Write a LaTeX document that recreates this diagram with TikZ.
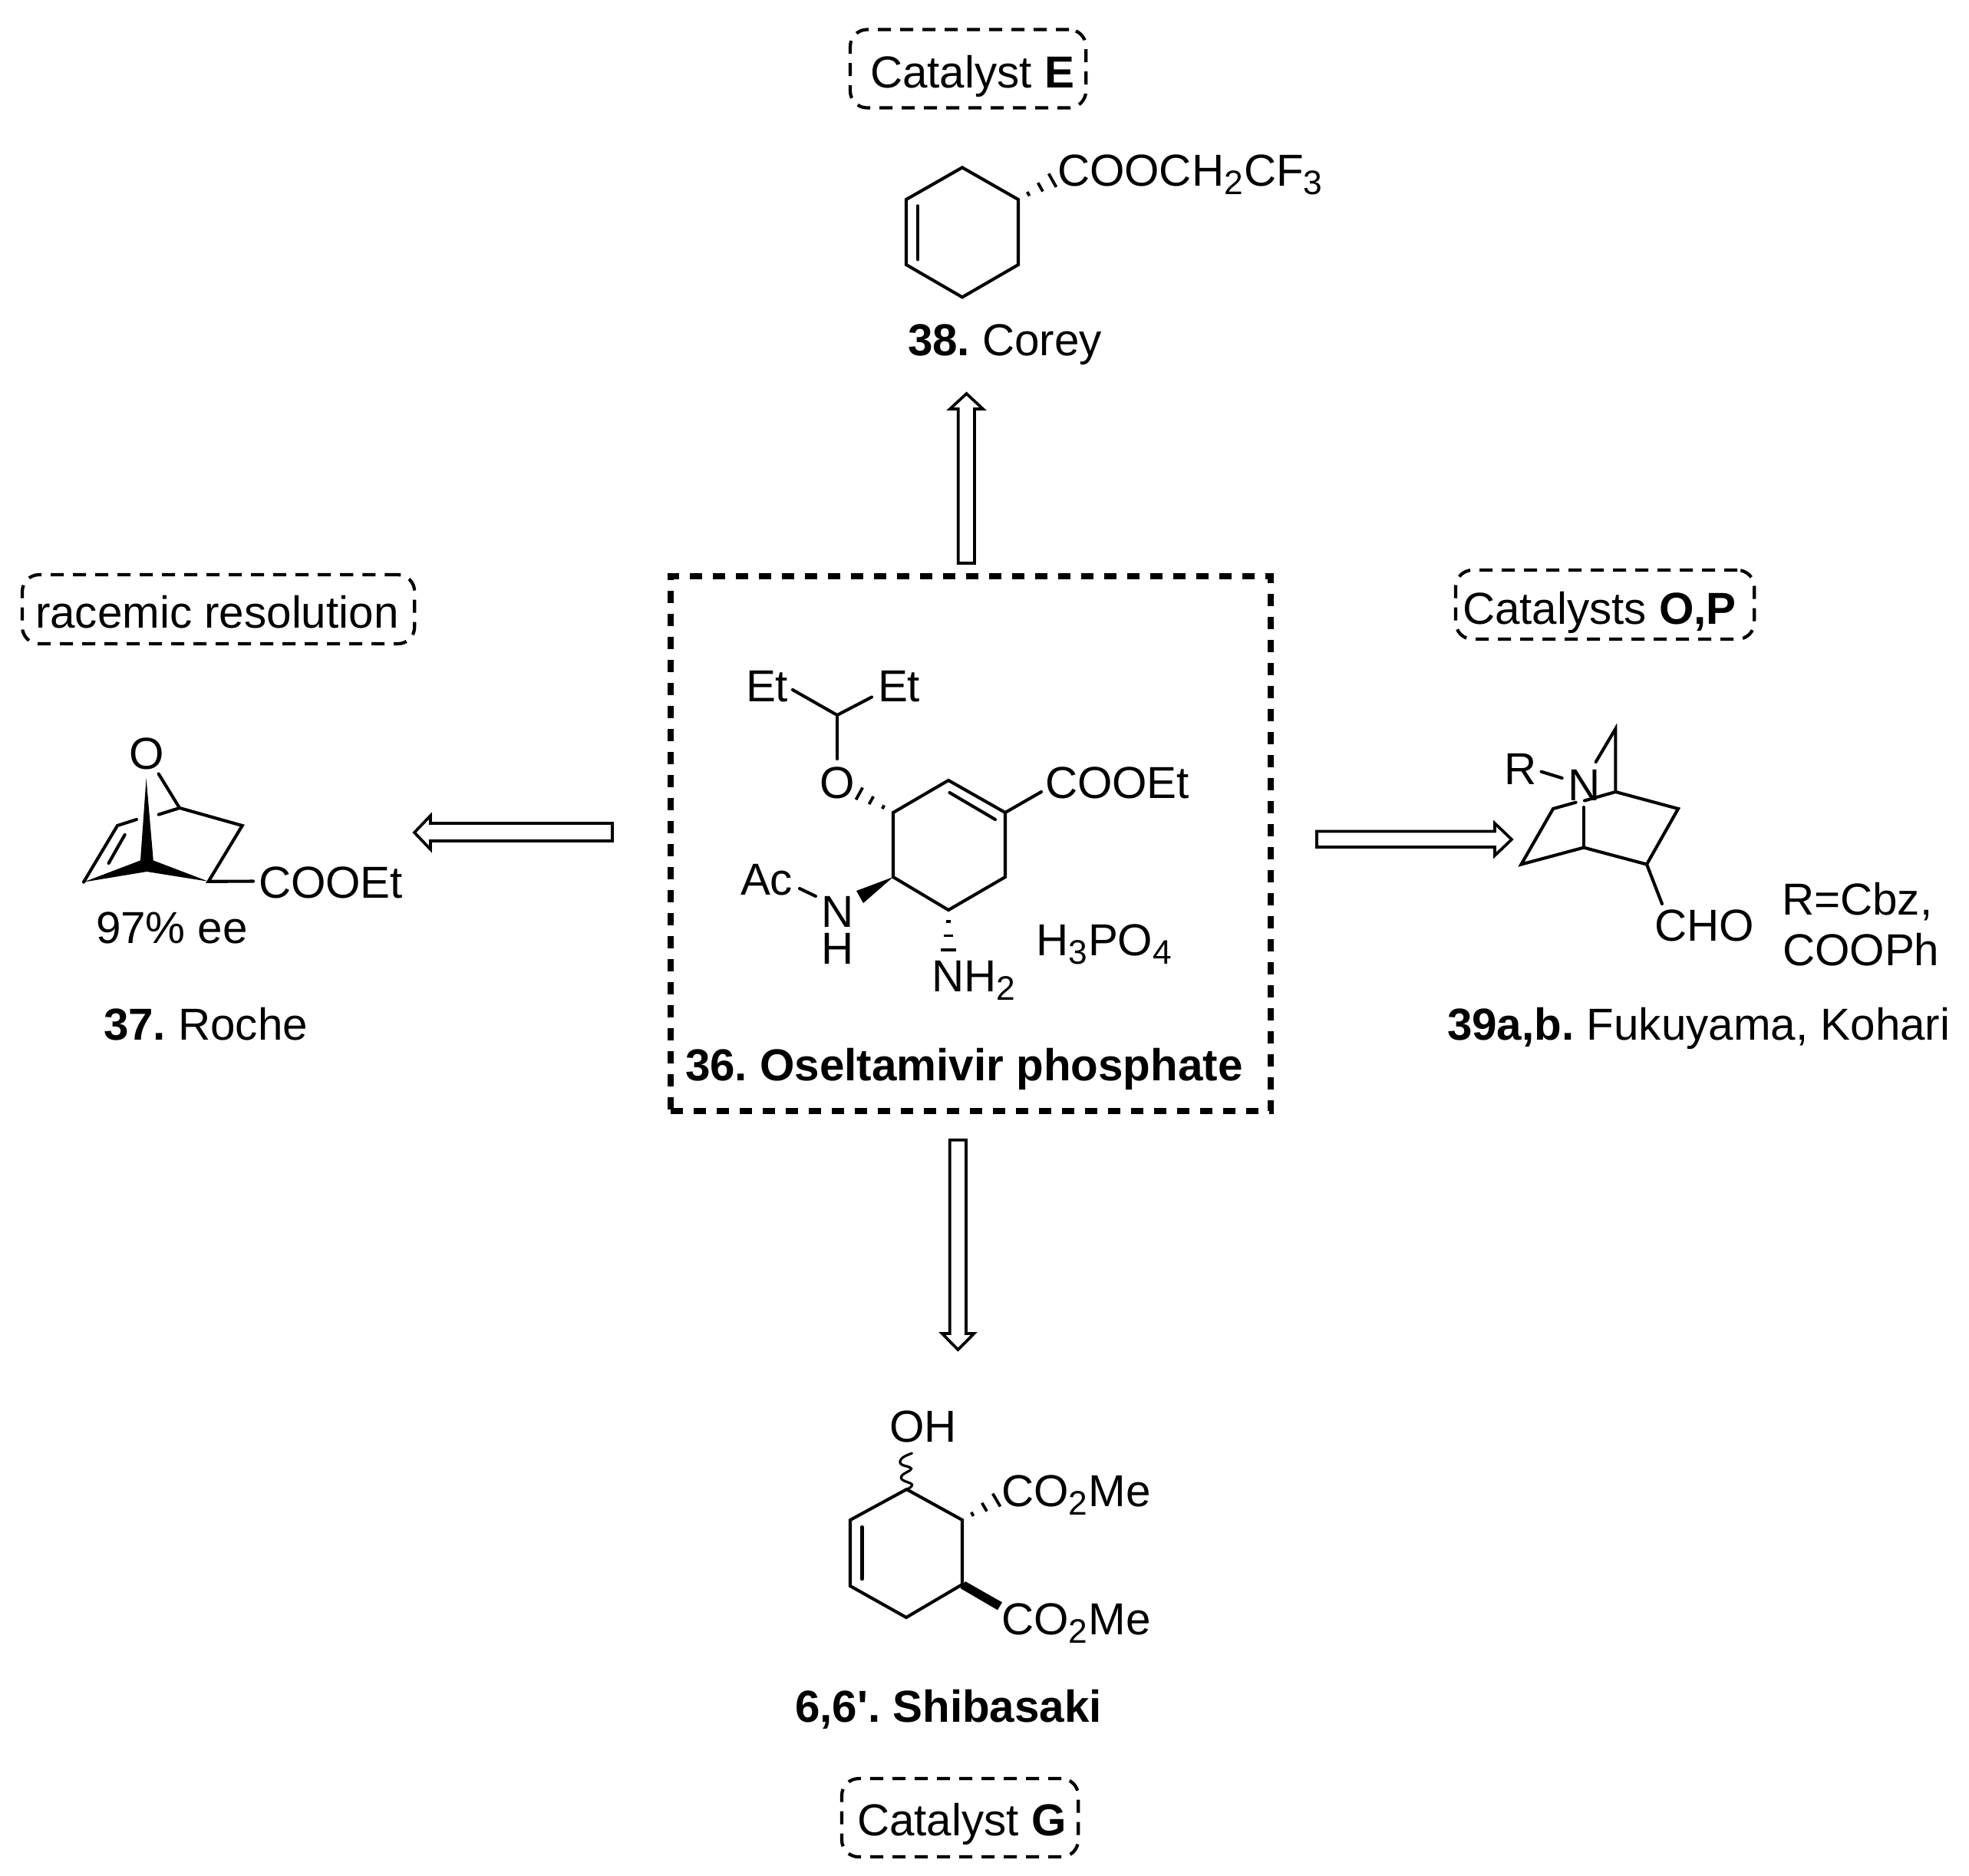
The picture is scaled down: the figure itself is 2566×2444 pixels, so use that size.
\documentclass[tikz,border=0pt]{standalone}
\usepackage{fontspec}
\setmainfont{Liberation Sans}
\newfontfamily\plainfont{Liberation Sans}
\usetikzlibrary{calc}
\frenchspacing
\newcommand\chsub[1]{\raisebox{-0.116cm}{\fontsize{12.6}{12.6}\selectfont #1}\kern0.012cm}
% hashed wedge from narrow end #1 towards #2, half width #3 (cm) at the far end
\newcommand\hashbond[3]{%
  \foreach \t in {0.25,0.55,0.85}{%
    \pgfmathsetmacro\hw{\t*#3}%
    \draw[hashline] ($(#1)!\t!(#2)!\hw cm!90:(#2)$) -- ($(#1)!\t!(#2)!\hw cm!-90:(#2)$);
  }}
\tikzset{
  bond/.style={line width=0.041cm,line join=miter,line cap=round},
  hashline/.style={line width=0.038cm},
  txt/.style={inner sep=0pt,outer sep=0pt,anchor=base west,font=\fontsize{16.6}{19}\selectfont},
  atom/.style={inner sep=0pt,outer sep=0pt,anchor=base,font=\fontsize{16.6}{19}\selectfont},
  mainbox/.style={draw,outer sep=0pt,line width=0.08cm,dash pattern=on 0.16cm off 0.14cm,line cap=butt},
  catbox/.style={draw,outer sep=0pt,line width=0.042cm,rounded corners=0.22cm,dash pattern=on 0.17cm off 0.12cm,inner sep=0pt},
  retro/.style={draw,fill=white,line width=0.037cm,line join=miter,miter limit=3},
}
\begin{document}
\begin{tikzpicture}[x=0.01cm,y=-0.01cm]
\useasboundingbox (0,0) rectangle (2566,2444);
\fill[white] (0,0) rectangle (2566,2444);

%% central box
\node[mainbox,minimum width=7.82cm,minimum height=6.97cm,anchor=north west] (mbox) at (874,751) {};
\node[txt] (t36) at (893,1408) {\bfseries 36. Oseltamivir phosphate};

%% oseltamivir
\coordinate (a1) at (1236,1017);
\coordinate (a2) at (1310,1059);
\coordinate (a3) at (1310,1143);
\coordinate (a4) at (1236,1186);
\coordinate (a5) at (1164,1143);
\coordinate (a6) at (1164,1059);
\draw[bond] (a1) -- (a2) -- (a3) -- (a4) -- (a5) -- (a6) -- cycle;
\coordinate (a1i) at (1237.5,1033); \coordinate (a2i) at (1297,1068);
\draw[bond] (a1i) -- (a2i);
\node[txt] (ester) at (1362,1040) {COOEt};
\coordinate (e1) at (1357,1032);
\draw[bond] (a2) -- (e1);
\node[atom] (oo) at (1091,1040) {O};
\coordinate (oh) at (1112,1030);
\hashbond{a6}{oh}{0.105}
\coordinate (ch) at (1091,932);
\coordinate (ob) at (1091,989);
\draw[bond] (ob) -- (ch);
\node[txt] (etl) at (972,914.6) {Et};
\node[txt] (etr) at (1144,914.6) {Et};
\coordinate (el) at (1033,899); \coordinate (er) at (1136,908.5);
\draw[bond] (el) -- (ch) -- (er);
\node[txt] (ac) at (965,1166) {Ac};
\node[atom] (nn) at (1092,1208) {N};
\node[atom] (hh) at (1092,1256) {H};
\coordinate (ac1) at (1042,1158); \coordinate (ac2) at (1063,1168);
\draw[bond] (ac1) -- (ac2);
\coordinate (w1) at (1116,1161); \coordinate (w2) at (1125,1177);
\fill (a5) -- (w1) -- (w2) -- cycle;
\coordinate (nh) at (1236,1247);
\hashbond{a4}{nh}{0.115}
\node[txt] (nh2) at (1214,1292) {NH\chsub{2}};
\node[txt] (h3po4) at (1350,1245) {H\chsub{3}PO\chsub{4}};

%% retro arrows
\coordinate (u1) at (1248.7,734); \coordinate (u2) at (1270,734);
\draw[retro] (u1) -- (1248.7,533) -- (1238,533) -- (1259.5,513) -- (1281,533) -- (1270,533) -- (u2) -- cycle;
\coordinate (d1) at (1237.7,1485.7); \coordinate (d2) at (1259,1485.7);
\draw[retro] (d1) -- (1237.7,1738) -- (1227.7,1738) -- (1248.5,1759) -- (1269.3,1738) -- (1259,1738) -- (d2) -- cycle;
\coordinate (l1) at (798,1073); \coordinate (l2) at (798,1096);
\draw[retro] (l1) -- (561,1073) -- (561,1063) -- (540,1085) -- (561,1107) -- (561,1096) -- (l2) -- cycle;
\coordinate (r1) at (1716,1083.5); \coordinate (r2) at (1716,1104);
\draw[retro] (r1) -- (1948,1083.5) -- (1948,1073) -- (1970,1094) -- (1948,1115) -- (1948,1104) -- (r2) -- cycle;

%% 38 Corey
\node[catbox,minimum width=3.07cm,minimum height=1.02cm,anchor=north west] (boxE) at (1108,38.5) {};
\node[txt] (tE) at (1134,114) {Catalyst \textbf{E}};
\coordinate (b1) at (1254,218.3);
\coordinate (b2) at (1327,260);
\coordinate (b3) at (1327,345);
\coordinate (b4) at (1254,387.3);
\coordinate (b5) at (1181,345);
\coordinate (b6) at (1181,260);
\draw[bond] (b1) -- (b2) -- (b3) -- (b4) -- (b5) -- (b6) -- cycle;
\coordinate (b5i) at (1196,338.3); \coordinate (b6i) at (1196,268.3);
\draw[bond] (b5i) -- (b6i);
\coordinate (bh) at (1379.4,230.6);
\hashbond{b2}{bh}{0.118}
\node[txt] (cf3) at (1378,242) {COOCH\chsub{2}CF\chsub{3}};
\node[txt] (t38) at (1183,463) {\textbf{38.} Corey};

%% 37 Roche
\node[catbox,minimum width=5.11cm,minimum height=0.90cm,anchor=north west] (boxR) at (29,749) {};
\node[txt] (tR) at (46,818) {racemic resolution};
\node[atom] (ro) at (191.5,1002.7) {O};
\coordinate (c1) at (190.6,1014);
\coordinate (c2) at (199.8,1121.4);
\coordinate (c3) at (271.7,1148.8);
\coordinate (c4) at (191.3,1136);
\coordinate (c5) at (109,1149.6);
\coordinate (c6) at (183,1121.4);
\fill (c1) -- (c2) -- (c3) -- (c4) -- (c5) -- (c6) -- cycle;
\coordinate (c7) at (153,1076); \coordinate (c8) at (178,1068);
\draw[bond] (c5) -- (c7) -- (c8);
\coordinate (c9) at (141.6,1125); \coordinate (c10) at (162.6,1088);
\draw[bond] (c9) -- (c10);
\coordinate (c11) at (206.7,1061.6); \coordinate (c12) at (234,1053); \coordinate (c13) at (315.7,1076);
\coordinate (c14) at (206.7,1008.6); \coordinate (c15) at (330,1148.5);
\draw[bond] (c11) -- (c12) -- (c13) -- (c3) -- (c15);
\draw[bond] (c12) -- (c14);
\node[txt] (rester) at (337,1170) {COOEt};
\node[txt] (ee) at (125,1229) {97\% ee};
\node[txt] (t37) at (135,1355) {\textbf{37.} Roche};

%% 39 Fukuyama
\node[catbox,minimum width=3.89cm,minimum height=0.90cm,anchor=north west] (boxO) at (1897,743) {};
\node[txt] (tO) at (1906,813) {Catalysts \textbf{O,P}};
\node[txt] (rr) at (1960,1022.5) {R};
\coordinate (f1) at (2008.6,1005.7); \coordinate (f2) at (2035.6,1014);
\draw[bond] (f1) -- (f2);
\node[atom] (fn) at (2065,1043.5) {N};
\coordinate (f3) at (2079.7,993);
\coordinate (f4) at (2105.4,949.7);
\coordinate (f5) at (2105.4,1032);
\coordinate (f6) at (2065,1043.5);
\coordinate (f7) at (2187,1054);
\coordinate (f8) at (2146,1126.5);
\coordinate (f9) at (2064,1104.6);
\coordinate (f10) at (1982.5,1126.5);
\coordinate (f11) at (2024,1054);
\coordinate (f12) at (2053.6,1045.7);
\coordinate (f13) at (2064,1052);
\coordinate (f14) at (2166,1178);
\draw[bond] (f3) -- (f4) -- (f5) -- (f7) -- (f8) -- (f9) -- (f10) -- (f11) -- (f12);
\draw[bond] (f6) -- (f5);
\draw[bond] (f13) -- (f9);
\draw[bond] (f8) -- (f14);
\node[txt] (cho) at (2156,1226.6) {CHO};
\node[txt] (rcbz) at (2322,1192) {R=Cbz,};
\node[txt] (cooph) at (2323,1258) {COOPh};
\node[txt] (t39) at (1886,1355) {\textbf{39a,b.} Fukuyama, Kohari};

%% 6,6' Shibasaki
\node[txt] (oh1) at (1159,1879) {OH};
\coordinate (g1) at (1181.5,1941);
\coordinate (g2) at (1254,1981);
\coordinate (g3) at (1254,2065);
\coordinate (g4) at (1181,2108);
\coordinate (g5) at (1108,2067);
\coordinate (g6) at (1108,1981);
\draw[bond] (g1) -- (g2) -- (g3) -- (g4) -- (g5) -- (g6) -- cycle;
\coordinate (g5i) at (1123.5,2058); \coordinate (g6i) at (1123.5,1990);
\draw[bond] (g5i) -- (g6i);
\draw[bond,line width=0.032cm] plot[smooth,tension=0.7] coordinates {(1188.5,1894) (1176,1900) (1174,1908) (1187.5,1914) (1176,1922.4) (1176,1928.6) (1188.5,1934.7) (1182.5,1941)};
\coordinate (gh) at (1306.5,1950.4);
\hashbond{g2}{gh}{0.115}
\node[txt] (co2a) at (1305,1963) {CO\chsub{2}Me};
\coordinate (gw0) at (1251.5,2070); \coordinate (gw3) at (1258,2061);
\coordinate (gw1) at (1306,2088.3); \coordinate (gw2) at (1300,2098.3);
\fill (gw0) -- (gw3) -- (gw1) -- (gw2) -- cycle;
\node[txt] (co2b) at (1305,2130) {CO\chsub{2}Me};
\node[txt] (t6) at (1036,2244) {\plainfont\bfseries 6,6'. Shibasaki};
\node[catbox,minimum width=3.08cm,minimum height=1.02cm,anchor=north west] (boxG) at (1097,2318) {};
\node[txt] (tG) at (1117,2392) {Catalyst \textbf{G}};
\end{tikzpicture}
\end{document}
